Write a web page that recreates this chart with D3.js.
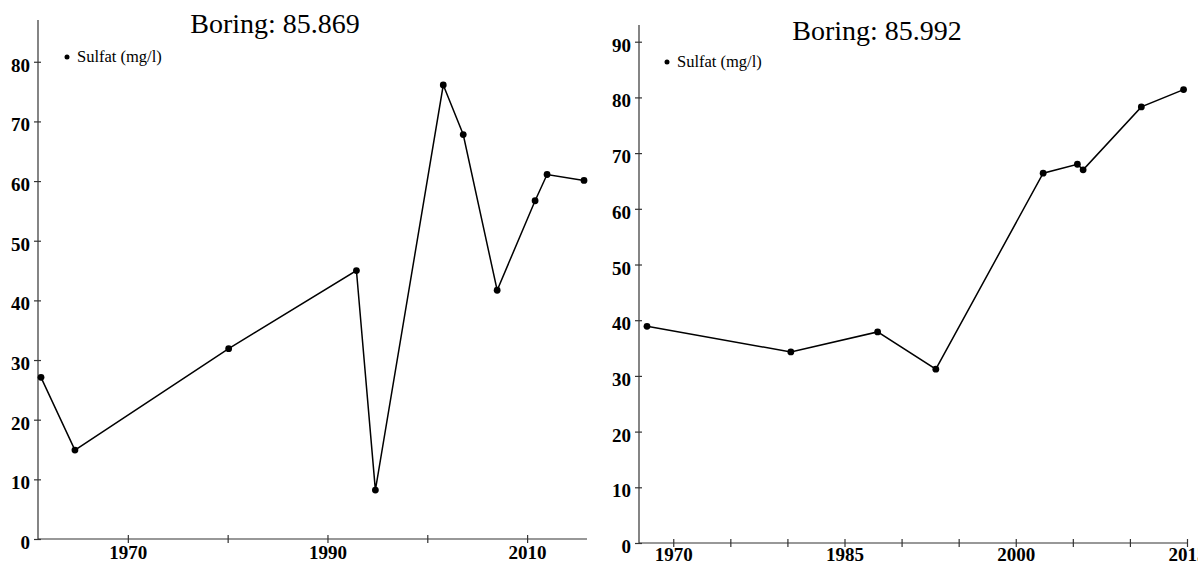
<!DOCTYPE html>
<html>
<head>
<meta charset="utf-8">
<script src="https://cdn.jsdelivr.net/npm/d3@7"></script>
<style>
  body { margin: 0; background: #fff; }
  svg { display: block; }
  text { font-family: "Liberation Serif", "Times New Roman", serif; }
</style>
</head>
<body>
<svg id="chart" width="1198" height="566"></svg>
<script>
// ---- data ----
var yearsA   = [1961.3, 1964.7, 1980.1, 1992.9, 1994.8, 2001.6, 2003.6, 2007.0, 2010.8, 2012.0, 2015.7];
var sulfatA  = [27.1, 14.9, 31.9, 45.0, 8.2, 76.1, 67.8, 41.7, 56.7, 61.1, 60.1];
var yearsB   = [1967.7, 1980.3, 1987.9, 1993.0, 2002.4, 2005.4, 2005.9, 2011.0, 2014.7];
var sulfatB  = [38.9, 34.3, 37.9, 31.2, 66.4, 68.0, 67.0, 78.3, 81.4];

var titleA = "Boring: 85.869", titleB = "Boring: 85.992";
var legendLabel = "Sulfat (mg/l)";

var xTicksA = [1970, 1980, 1990, 2000, 2010], xLabelsA = [1970, 1990, 2010];
var xTicksB = [1970, 1975, 1980, 1985, 1990, 1995, 2000, 2005, 2010, 2015], xLabelsB = [1970, 1985, 2000, 2015];
var yTicksA = [0, 10, 20, 30, 40, 50, 60, 70, 80];
var yTicksB = [0, 10, 20, 30, 40, 50, 60, 70, 80, 90];

var svg = d3.select("#chart");

function drawPanel(opt) {
  var x = d3.scaleLinear().domain(opt.xDomain).range([opt.left, opt.right]);
  var y = d3.scaleLinear().domain(opt.yDomain).range([opt.bottom, opt.top]);
  var g = svg.append("g");

  // x axis, ticks cross the line
  var xa = g.append("g")
      .attr("transform", "translate(0," + opt.bottom + ")")
      .call(d3.axisBottom(x).tickValues(opt.xTicks).tickSize(4)
          .tickFormat(function(d) { return opt.xLabels.indexOf(d) >= 0 ? d : ""; }));
  xa.select(".domain").attr("d", "M" + opt.left + ",0H" + opt.right);
  xa.selectAll(".tick line").attr("y1", -4).attr("y2", 4);
  xa.selectAll(".tick text").attr("y", opt.xLabelGap).attr("dy", "0.71em");

  // y axis
  var ya = g.append("g")
      .attr("transform", "translate(" + opt.left + ",0)")
      .call(d3.axisLeft(y).tickValues(opt.yTicks).tickSize(4));
  ya.select(".domain").attr("d", "M0," + opt.top + "V" + opt.bottom);
  ya.selectAll(".tick line").attr("x1", -4).attr("x2", 3);
  ya.selectAll(".tick text").attr("x", -8).attr("dy", "0.5em");

  g.selectAll(".domain, .tick line").attr("stroke", "#333").attr("stroke-width", 1.2);
  g.selectAll(".tick text")
      .style("font-family", "'Liberation Serif', serif")
      .style("font-weight", "bold")
      .style("font-size", "19px")
      .attr("fill", "#000");

  var pts = opt.years.map(function(yr, i) { return [yr, opt.values[i]]; });

  g.append("path")
      .datum(pts)
      .attr("fill", "none")
      .attr("stroke", "#000")
      .attr("stroke-width", 1.5)
      .attr("d", d3.line().x(function(d) { return x(d[0]); }).y(function(d) { return y(d[1]); }));

  g.selectAll("circle.pt")
      .data(pts)
      .enter().append("circle")
      .attr("class", "pt")
      .attr("cx", function(d) { return x(d[0]); })
      .attr("cy", function(d) { return y(d[1]); })
      .attr("r", 3.4)
      .attr("fill", "#000");

  // title
  g.append("text")
      .attr("x", opt.titleX).attr("y", opt.titleY)
      .attr("text-anchor", "middle")
      .style("font-size", "28px")
      .text(opt.title);

  // legend
  g.append("circle")
      .attr("cx", opt.legX).attr("cy", opt.legY)
      .attr("r", 2.5).attr("fill", "#000");
  g.append("text")
      .attr("x", opt.legX + 10).attr("y", opt.legY + 5)
      .style("font-size", "16.5px")
      .text(legendLabel);
}

drawPanel({
  years: yearsA, values: sulfatA,
  xDomain: [1961, 2016], yDomain: [0, 87],
  left: 38, right: 587, top: 20, bottom: 539,
  xTicks: xTicksA, xLabels: xLabelsA, yTicks: yTicksA, xLabelGap: 7,
  title: titleA, titleX: 275, titleY: 33,
  legX: 67, legY: 57
});

drawPanel({
  years: yearsB, values: sulfatB,
  xDomain: [1967, 2015], yDomain: [0, 93],
  left: 639, right: 1187, top: 25, bottom: 543,
  xTicks: xTicksB, xLabels: xLabelsB, yTicks: yTicksB, xLabelGap: 5,
  title: titleB, titleX: 877, titleY: 40,
  legX: 667, legY: 62
});
</script>
</body>
</html>
